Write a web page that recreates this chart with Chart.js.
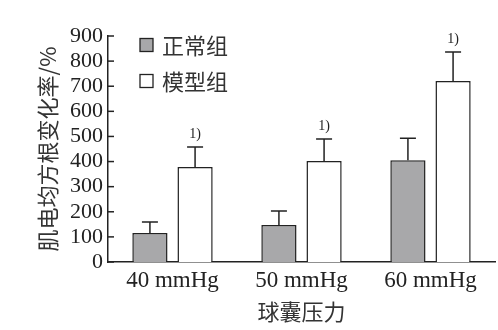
<!DOCTYPE html>
<html>
<head>
<meta charset="utf-8">
<script src="https://cdn.jsdelivr.net/npm/chart.js@4"></script>
<style>
  html, body { margin: 0; padding: 0; background: #fff; }
  #wrap { width: 498px; height: 330px; }
</style>
</head>
<body>
<div id="wrap"><canvas id="chart" width="498" height="330"></canvas></div>
<script>
// Data
const categories = ['40 mmHg', '50 mmHg', '60 mmHg'];
const normalMeans = [115, 147, 405];
const normalSD = [44, 56, 88];
const modelMeans = [378, 402, 721];
const modelSD = [80, 88, 115];
const sigMarks = ['1)', '1)', '1)'];
const yTicks = [0, 100, 200, 300, 400, 500, 600, 700, 800, 900];

const serif = '"Liberation Serif", "Noto Sans CJK SC", serif';
const axisColor = '#222';

// Error bars (upward only), significance marks, inner y ticks, legend
const extrasPlugin = {
    id: 'extras',
    afterDatasetsDraw(chart) {
        const ctx = chart.ctx;
        const yScale = chart.scales.y;
        const sds = [normalSD, modelSD];
        ctx.save();
        ctx.strokeStyle = axisColor;
        ctx.lineWidth = 1.5;
        chart.data.datasets.forEach((ds, di) => {
            const meta = chart.getDatasetMeta(di);
            meta.data.forEach((bar, i) => {
                const top = yScale.getPixelForValue(ds.data[i] + sds[di][i]);
                ctx.beginPath();
                ctx.moveTo(bar.x, bar.y);
                ctx.lineTo(bar.x, top);
                ctx.moveTo(bar.x - 8, top);
                ctx.lineTo(bar.x + 8, top);
                ctx.stroke();
                if (di === 1) {
                    ctx.fillStyle = '#222';
                    ctx.font = '14px ' + serif;
                    ctx.textAlign = 'center';
                    ctx.textBaseline = 'middle';
                    ctx.fillText(sigMarks[i], bar.x, top - 13);
                }
            });
        });

        // tick marks pointing into the plot
        const x0 = chart.chartArea.left;
        yTicks.forEach(v => {
            const y = yScale.getPixelForValue(v);
            ctx.beginPath();
            ctx.moveTo(x0, y);
            ctx.lineTo(x0 + 6, y);
            ctx.stroke();
        });

        // legend
        ctx.font = '22px "Noto Sans CJK SC", sans-serif';
        ctx.textAlign = 'left';
        ctx.textBaseline = 'middle';
        chart.data.datasets.forEach((ds, di) => {
            const cy = 45 + di * 36;
            ctx.fillStyle = ds.backgroundColor;
            ctx.fillRect(140, cy - 6.5, 13, 13);
            ctx.lineWidth = 1.3;
            ctx.strokeRect(140, cy - 6.5, 13, 13);
            ctx.fillStyle = '#333';
            ctx.fillText(ds.label, 162, cy + 1);
        });
        ctx.restore();
    }
};

new Chart(document.getElementById('chart'), {
    type: 'bar',
    data: {
        labels: categories,
        datasets: [
            {
                label: '正常组',
                data: normalMeans,
                backgroundColor: '#a8a8aa',
                borderColor: axisColor,
                borderWidth: 1.5,
                categoryPercentage: 0.7,
                barPercentage: 0.78
            },
            {
                label: '模型组',
                data: modelMeans,
                backgroundColor: '#ffffff',
                borderColor: axisColor,
                borderWidth: 1.5,
                categoryPercentage: 0.7,
                barPercentage: 0.78
            }
        ]
    },
    options: {
        responsive: false,
        animation: false,
        layout: { padding: { top: 36, right: 3, left: 0, bottom: 0 } },
        plugins: {
            legend: { display: false },
            tooltip: { enabled: false }
        },
        scales: {
            x: {
                grid: { display: false, drawTicks: false },
                border: { display: true, color: axisColor, width: 1.5 },
                ticks: {
                    color: '#222',
                    padding: 5,
                    font: { family: serif, size: 23 }
                },
                title: {
                    display: true,
                    text: '球囊压力',
                    color: '#333',
                    font: { family: '"Noto Sans CJK SC", sans-serif', size: 22 },
                    padding: { top: 0, bottom: 5 }
                },
                afterFit(scale) { scale.height = 68; }
            },
            y: {
                min: 0,
                max: 900,
                grid: { display: false, drawTicks: false },
                border: { display: true, color: axisColor, width: 1.5 },
                afterBuildTicks(scale) {
                    scale.ticks = yTicks.map(v => ({ value: v }));
                },
                ticks: {
                    autoSkip: false,
                    color: '#222',
                    padding: 5,
                    font: { family: serif, size: 22 }
                },
                title: {
                    display: true,
                    text: '肌电均方根变化率/%',
                    color: '#333',
                    font: { family: '"Noto Sans CJK SC", sans-serif', size: 22 },
                    padding: { top: 34, bottom: 0 }
                },
                afterFit(scale) { scale.width = 108; }
            }
        }
    },
    plugins: [extrasPlugin]
});
</script>
</body>
</html>
